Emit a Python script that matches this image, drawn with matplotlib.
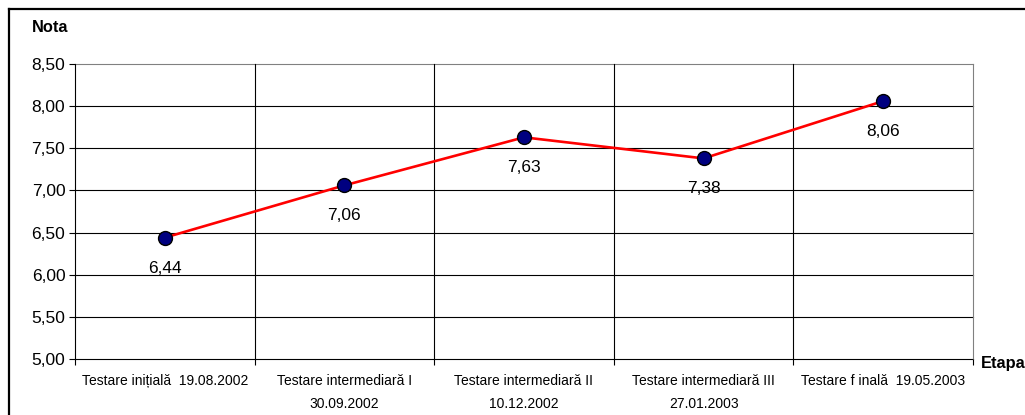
import matplotlib
matplotlib.use("Agg")
import matplotlib.pyplot as plt
from matplotlib.lines import Line2D

plt.rcParams["font.family"] = ["Liberation Sans", "DejaVu Sans"]

# ── Data ──────────────────────────────────────────────────────────────────────
stages = [
    "Testare inițială  19.08.2002",
    "Testare intermediară I\n30.09.2002",
    "Testare intermediară II\n10.12.2002",
    "Testare intermediară III\n27.01.2003",
    "Testare f inală  19.05.2003",
]
grades = [6.44, 7.06, 7.63, 7.38, 8.06]
yticks = [5.0, 5.5, 6.0, 6.5, 7.0, 7.5, 8.0, 8.5]

fig = plt.figure(figsize=(10.25, 4.15), dpi=100)
# chart frame: only top and left edges fall inside the picture
fx, fy = 9 / 1025, 1 - 9 / 415
fig.lines.append(Line2D([fx, 1.0], [fy, fy], transform=fig.transFigure,
                        color="black", lw=1.6))
fig.lines.append(Line2D([fx, fx], [0.0, fy], transform=fig.transFigure,
                        color="black", lw=1.6))

ax = fig.add_axes([75 / 1025, 1 - 359 / 415, 898 / 1025, 295 / 415])
x = list(range(len(stages)))

# grid
for v in yticks:
    col = "#808080" if v == yticks[-1] else "black"
    ax.axhline(v, color=col, lw=0.8, zorder=1, clip_on=False)
bounds = [i - 0.5 for i in range(len(stages) + 1)]
for b in bounds:
    col = "#808080" if b == bounds[-1] else "black"
    ax.axvline(b, color=col, lw=0.8, zorder=1, clip_on=False)

ax.plot(x, grades, color="#ff0000", lw=1.9, zorder=3)
ax.plot(x, grades, ls="none", marker="o", ms=10, mfc="#000080",
        mec="black", mew=1, zorder=4)
for xi, g in zip(x, grades):
    ax.annotate(f"{g:.2f}".replace(".", ","), (xi, g), xytext=(0, -22),
                textcoords="offset points", ha="center", va="center",
                fontsize=12.5)

ax.set_xlim(-0.5, len(stages) - 0.5)
ax.set_ylim(5.0, 8.5)
ax.set_yticks(yticks)
ax.set_yticklabels([f"{v:.2f}".replace(".", ",") for v in yticks], fontsize=12.5)
ax.set_xticks(bounds)
ax.set_xticklabels([])
ax.set_xticks(x, minor=True)
ax.set_xticklabels(stages, minor=True, fontsize=10, linespacing=1.75, va="top")
ax.tick_params(axis="x", which="minor", length=0, pad=11)
ax.tick_params(axis="x", which="major", length=4, direction="out")
ax.tick_params(axis="y", length=4, direction="out", pad=3)
for s in ax.spines.values():
    s.set_visible(False)

fig.text(32 / 1025, 1 - 28 / 415, "Nota", fontsize=11.8, fontweight="bold",
         va="center", ha="left")
fig.text(981 / 1025, 1 - 363 / 415, "Etapa", fontsize=11.8, fontweight="bold",
         va="center", ha="left")

fig.savefig("out.png", dpi=100)
